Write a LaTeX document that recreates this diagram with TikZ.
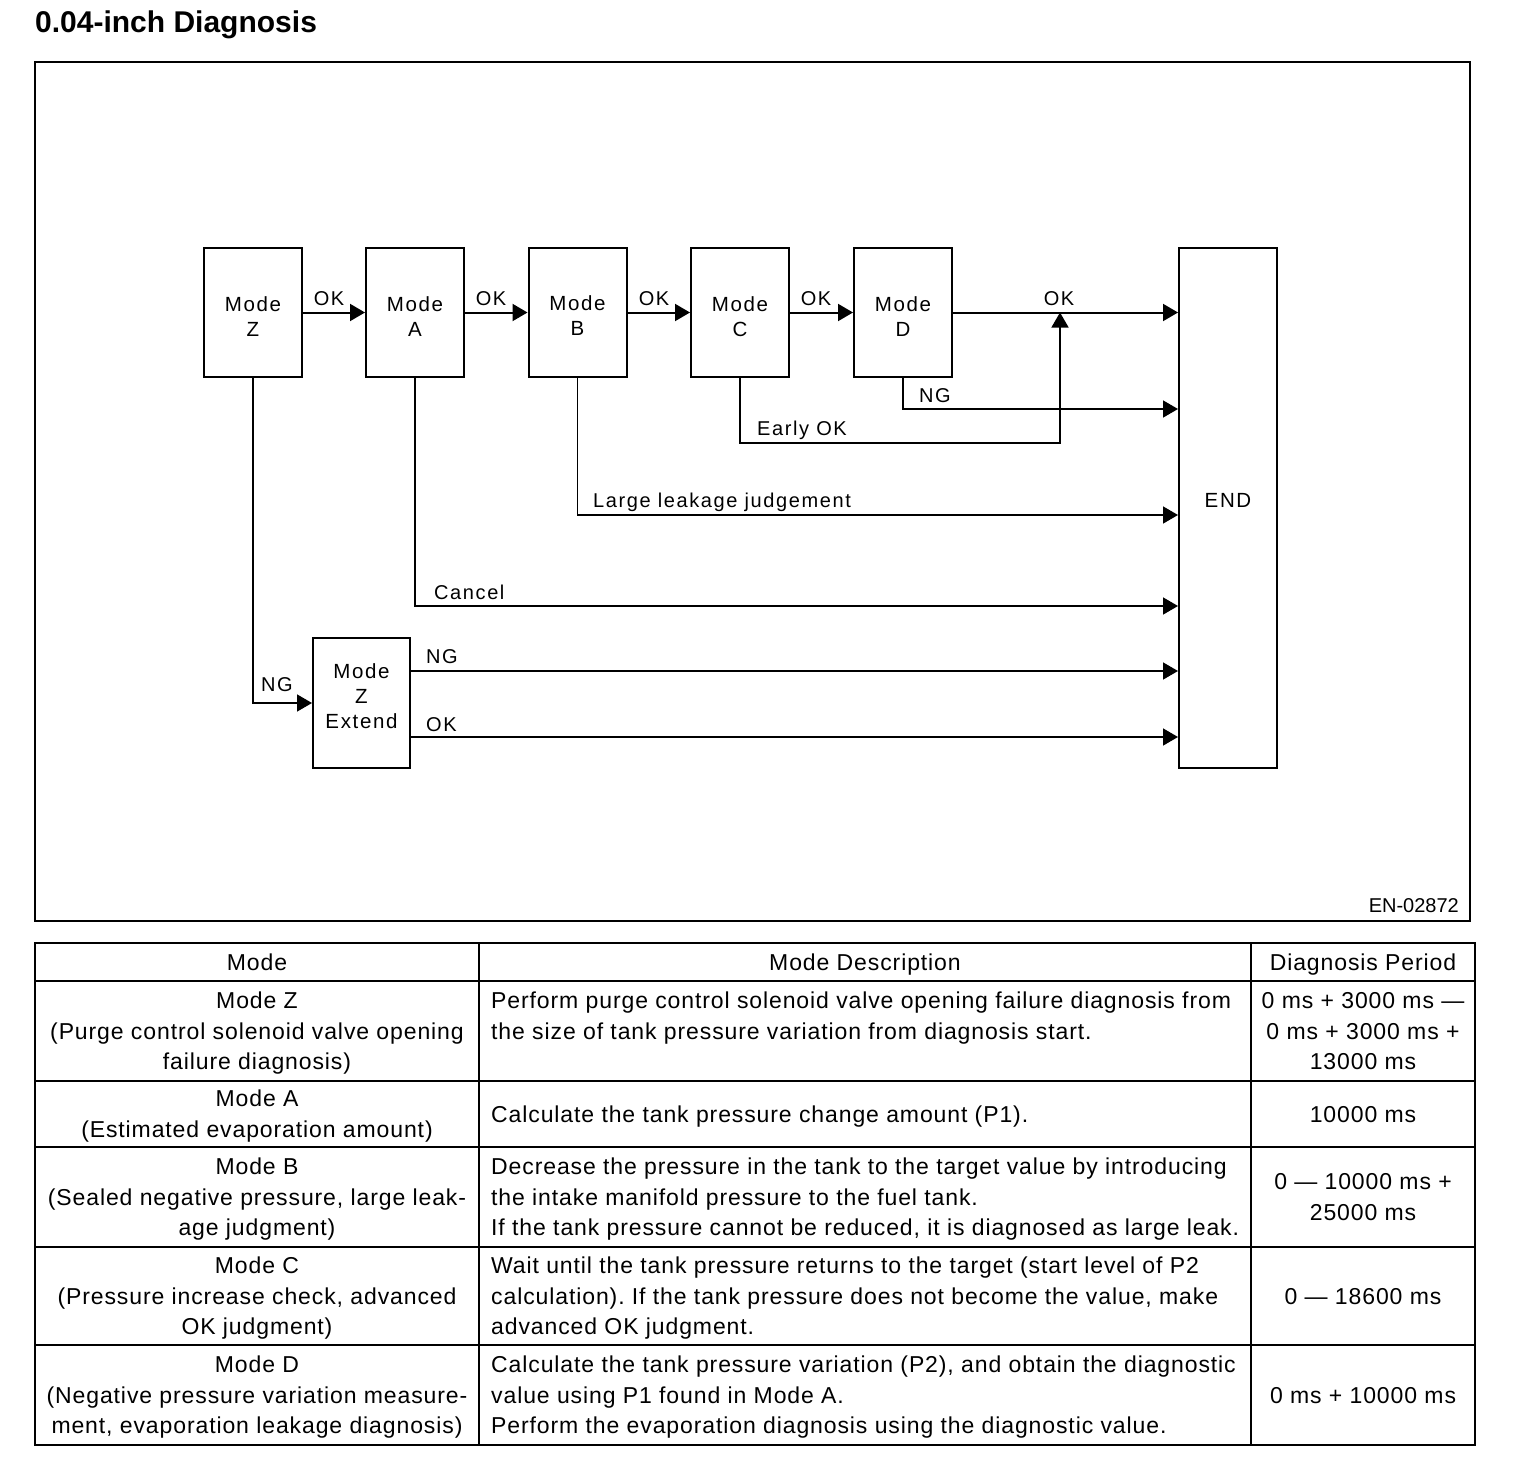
\documentclass[tikz,border=0pt]{standalone}
\usepackage{fontspec}
\setmainfont{Liberation Sans}
\newfontfamily\diagfont[LetterSpace=8]{Liberation Sans}
\newfontfamily\tabfont[LetterSpace=3.9]{Liberation Sans}
\usetikzlibrary{arrows.meta}
\frenchspacing
\begin{document}
\begin{tikzpicture}[x=1pt,y=-1pt,
  box/.style={draw, line width=2pt, minimum width=98pt, minimum height=129pt, inner sep=0pt, align=center, font=\diagfont\fontsize{20.5}{25}\selectfont},
  lbl/.style={inner sep=0pt, font=\diagfont\fontsize{20}{25}\selectfont},
  tip/.style={-{Triangle[length=15pt,width=17pt]}},
  mainarr/.style={line width=2pt, tip},
  subarr/.style={line width=1.5pt, tip},
  cell/.style={inner sep=0pt, font=\tabfont\fontsize{23}{30.5}\selectfont\frenchspacing},
  tline/.style={line width=2pt}
]
\useasboundingbox (0,0) rectangle (1520,1466);

% title and frame
\node[anchor=base west, inner sep=0pt, font=\bfseries\fontsize{30}{36}\selectfont] (title) at (35,33) {0.04-inch Diagnosis};
\draw[line width=2pt] (35,62) rectangle (1470,921);
\node[anchor=base east, inner sep=0pt, font=\fontsize{20}{24}\selectfont] (code) at (1459,912) {EN-02872};

% boxes
\node[box] (Z) at (253,312.5) {\rule{0pt}{23pt}Mode\\Z};
\node[box] (A) at (415,312.5) {\rule{0pt}{23pt}Mode\\A};
\node[box] (B) at (577.5,312.5) {\rule{0pt}{21pt}Mode\\B};
\node[box] (C) at (740,312.5) {\rule{0pt}{23pt}Mode\\C};
\node[box] (D) at (903,312.5) {\rule{0pt}{23pt}Mode\\D};
\node[box, minimum height=520pt] (END) at (1228,508) {END\rule[-16pt]{0pt}{0pt}};
\node[box, minimum width=97pt, minimum height=130pt] (ZE) at (361.5,703) {Mode\\Z\\Extend\rule[-14pt]{0pt}{0pt}};

% helper coordinates
\coordinate (yNGD) at (0,409);
\coordinate (eok) at (1060,443);
\coordinate (yB) at (0,515);
\coordinate (yA) at (0,606);
\coordinate (yENG) at (0,671);
\coordinate (yEOK) at (0,737);

% main chain
\draw[mainarr] (Z.east) -- (A.west);
\draw[mainarr] (A.east) -- (B.west);
\draw[mainarr] (B.east) -- (C.west);
\draw[mainarr] (C.east) -- (D.west);
\draw[mainarr] (D.east) -- (END.west |- D.east);

% branches
\draw[subarr] (D.south) |- (END.west |- yNGD);
\draw[subarr] (C.south) |- (eok) -- (eok |- D.east);
\draw[subarr] (B.south) |- (END.west |- yB);
\draw[subarr] (A.south) |- (END.west |- yA);
\draw[subarr] (Z.south) |- (ZE.west);
\draw[subarr] (ZE.east |- yENG) -- (END.west |- yENG);
\draw[subarr] (ZE.east |- yEOK) -- (END.west |- yEOK);

% labels
\node[lbl, anchor=base] (ok1) at (329,305) {OK};
\node[lbl, anchor=base] (ok2) at (491,305) {OK};
\node[lbl, anchor=base] (ok3) at (654,305) {OK};
\node[lbl, anchor=base] (ok4) at (816,305) {OK};
\node[lbl, anchor=base] (ok5) at (1059,305) {OK};
\node[lbl, anchor=base] (ngd) at (935,402) {NG};
\node[lbl, anchor=base west] (early) at (757,435) {Early OK};
\node[lbl, anchor=base west] (large) at (593,507) {Large leakage judgement};
\node[lbl, anchor=base west] (cancel) at (434,599) {Cancel};
\node[lbl, anchor=base] (ngz) at (277,691) {NG};
\node[lbl, anchor=base west] (nge) at (426,663) {NG};
\node[lbl, anchor=base west] (oke) at (426,731) {OK};

% table
\draw[tline] (35,943) rectangle (1475,1445);
\foreach \yy in {981,1081,1147,1247,1345} \draw[tline] (35,\yy) -- (1475,\yy);
\draw[tline] (479,943) -- (479,1445);
\draw[tline] (1251,943) -- (1251,1445);

\node[cell, anchor=base] (h1) at (257,970) {Mode};
\node[cell, anchor=base] (h2) at (865,970) {Mode Description};
\node[cell, anchor=base] (h3) at (1363,970) {Diagnosis Period};

\node[cell, anchor=base, align=center] (z1) at (257,1069.5) {Mode Z\\(Purge control solenoid valve opening\\failure diagnosis)};
\node[cell, anchor=base west, align=left] (z2) at (491,1039) {Perform purge control solenoid valve opening failure diagnosis from\\the size of tank pressure variation from diagnosis start.};
\node[cell, anchor=base, align=center] (z3) at (1363,1069.5) {0 ms + 3000 ms —\\0 ms + 3000 ms +\\13000 ms};

\node[cell, anchor=base, align=center] (a1) at (257,1137.25) {Mode A\\(Estimated evaporation amount)};
\node[cell, anchor=base west] (a2) at (491,1122) {Calculate the tank pressure change amount (P1).};
\node[cell, anchor=base] (a3) at (1363,1122) {10000 ms};

\node[cell, anchor=base, align=center] (b1) at (257,1235.5) {Mode B\\(Sealed negative pressure, large leak-\\age judgment)};
\node[cell, anchor=base west, align=left] (b2) at (491,1235.5) {Decrease the pressure in the tank to the target value by introducing\\the intake manifold pressure to the fuel tank.\\If the tank pressure cannot be reduced, it is diagnosed as large leak.};
\node[cell, anchor=base, align=center] (b3) at (1363,1220.25) {0 — 10000 ms +\\25000 ms};

\node[cell, anchor=base, align=center] (c1) at (257,1334.5) {Mode C\\(Pressure increase check, advanced\\OK judgment)};
\node[cell, anchor=base west, align=left] (c2) at (491,1334.5) {Wait until the tank pressure returns to the target (start level of P2\\calculation). If the tank pressure does not become the value, make\\advanced OK judgment.};
\node[cell, anchor=base] (c3) at (1363,1304) {0 — 18600 ms};

\node[cell, anchor=base, align=center] (d1) at (257,1433.5) {Mode D\\(Negative pressure variation measure-\\ment, evaporation leakage diagnosis)};
\node[cell, anchor=base west, align=left] (d2) at (491,1433.5) {Calculate the tank pressure variation (P2), and obtain the diagnostic\\value using P1 found in Mode A.\\Perform the evaporation diagnosis using the diagnostic value.};
\node[cell, anchor=base] (d3) at (1363,1403) {0 ms + 10000 ms};
\end{tikzpicture}
\end{document}
